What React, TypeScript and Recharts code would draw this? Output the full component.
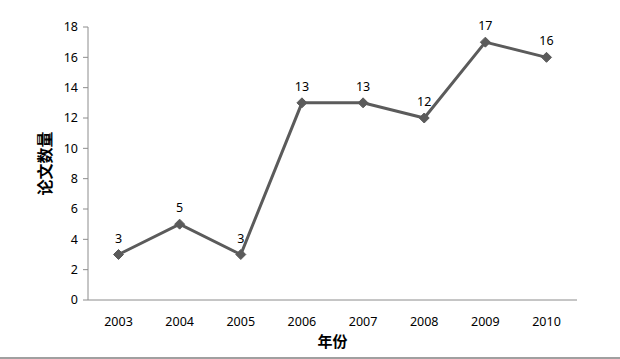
import { LineChart, Line, XAxis, YAxis, LabelList } from 'recharts';

const years = ['2003', '2004', '2005', '2006', '2007', '2008', '2009', '2010'];
const papers = [3, 5, 3, 13, 13, 12, 17, 16];
const yTicks = [0, 2, 4, 6, 8, 10, 12, 14, 16, 18];

const data = years.map((year, i) => ({ year, count: papers[i] }));

const LINE = '#5b5b5b';
const FONT = '"Noto Sans", "Noto Sans CJK SC", sans-serif';
const CJK = '"Noto Sans CJK SC", sans-serif';

const Diamond = (props: any) => {
  const { cx, cy } = props;
  if (cx == null || cy == null) return null;
  const r = 5;
  return (
    <polygon
      points={`${cx},${cy - r} ${cx + r},${cy} ${cx},${cy + r} ${cx - r},${cy}`}
      fill={LINE}
      stroke={LINE}
    />
  );
};

const App = () => {
  return (
    <div
      style={{
        position: 'absolute',
        top: 0,
        left: 0,
        width: 620,
        height: 359,
        background: '#fff',
        fontFamily: FONT,
      }}
    >
      <LineChart
        width={620}
        height={359}
        data={data}
        margin={{ top: 27, right: 43, left: 30, bottom: 29 }}
      >
        <XAxis
          dataKey="year"
          stroke="#8c8c8c"
          tickLine={false}
          height={30}
          padding={{ left: 30.5, right: 30.5 }}
          tick={{ fill: '#000', fontSize: 12.5, fontFamily: FONT }}
          tickMargin={11}
          label={{
            value: '年份',
            position: 'center',
            dy: 27,
            fill: '#000',
            fontSize: 15,
            fontWeight: 'bold',
            fontFamily: CJK,
          }}
        />
        <YAxis
          domain={[0, 18]}
          ticks={yTicks}
          width={58}
          stroke="#8c8c8c"
          tickSize={5}
          tickMargin={5}
          tick={{ fill: '#000', fontSize: 12.5, fontFamily: FONT }}
          label={{
            value: '论文数量',
            angle: -90,
            position: 'center',
            dx: -14,
            fill: '#000',
            fontSize: 16,
            fontWeight: 'bold',
            fontFamily: CJK,
          }}
        />
        <Line
          type="linear"
          dataKey="count"
          stroke={LINE}
          strokeWidth={3}
          dot={<Diamond />}
          activeDot={false}
          isAnimationActive={false}
        >
          <LabelList
            dataKey="count"
            position="top"
            offset={12}
            fill="#000"
            fontSize={12.5}
            fontFamily={FONT}
          />
        </Line>
      </LineChart>
      <div
        style={{
          position: 'absolute',
          left: 0,
          right: 0,
          bottom: 0,
          height: 2,
          background: '#a0a0a0',
        }}
      />
    </div>
  );
};

export default App;
